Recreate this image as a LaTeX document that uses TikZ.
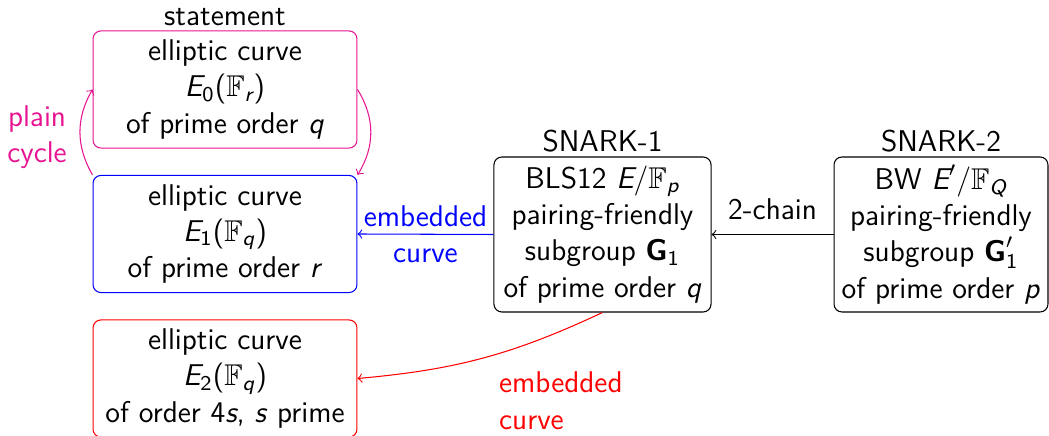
\documentclass[tikz,border=0pt]{standalone}
\usepackage{amsmath}
\usepackage{amssymb}
\usetikzlibrary{positioning}
\definecolor{cycpink}{RGB}{230,20,145}
% slanted sans letters for the variables, as in a sans-serif slide font
\newcommand{\mv}[1]{\textsl{#1}}
\newcommand{\up}[1]{\textup{#1}}
\begin{document}
\begin{tikzpicture}[x=0.38pt,y=-0.38pt,
  every node/.style={font=\fontsize{11.4}{13.8}\selectfont\sffamily},
  curvebox/.style={draw,rounded corners=3pt,align=center,inner sep=0pt,
    minimum width=100.3pt,minimum height=44.5pt},
  snarkbox/.style={draw,rounded corners=3pt,align=center,inner sep=0pt,
    minimum height=58.9pt},
  toplabel/.style={inner sep=1.5pt},
  conn/.style={->,line width=0.4pt}]
\useasboundingbox (0,0) rectangle (1049,436);

% curves on the left
\node[curvebox,draw=cycpink,label={[toplabel]above:statement}] (E0) at (225,89.5)
  {elliptic curve\\ $\mv{E}_{\up{0}}\up{(}\mathbb{F}_{\mv{r}}\up{)}$\\ of prime order \mv{q}};
\node[curvebox,draw=blue] (E1) at (225,234)
  {elliptic curve\\ $\mv{E}_{\up{1}}\up{(}\mathbb{F}_{\mv{q}}\up{)}$\\ of prime order \mv{r}};
\node[curvebox,draw=red] (E2) at (225,378.5)
  {elliptic curve\\ $\mv{E}_{\up{2}}\up{(}\mathbb{F}_{\mv{q}}\up{)}$\\ of order 4\mv{s}, \mv{s} prime};

% proof systems on the right
\node[snarkbox,minimum width=82.5pt,label={[toplabel]above:SNARK-1}] (S1) at (602.5,234.5)
  {BLS12 $\mv{E}\up{/}\mathbb{F}_{\mv{p}}$\\ pairing-friendly\\ subgroup $\textbf{G}_{\up{1}}$\\ of prime order \mv{q}};
\node[snarkbox,minimum width=81.3pt,label={[toplabel]above:SNARK-2}] (S2) at (941,234.5)
  {BW $\mv{E}'\up{/}\mathbb{F}_{\mv{Q}}$\\ pairing-friendly\\ subgroup $\textbf{G}'_{\up{1}}$\\ of prime order \mv{p}};

% connectors
\draw[conn] (S2.west) -- node[above=2pt] (chain) {2-chain} (S1.west -| S1.east);
\draw[conn,blue] (S1.west) -- node[text=blue,align=center] (emb1) {embedded\\ curve} (E1.east);
\draw[conn,red] (S1.south) to[bend left=10] (E2.east);
\node[text=red,align=left,anchor=north west,inner sep=1pt] (emb2) at (496,369) {embedded\\ curve};
\draw[conn,cycpink] (E0.east) to[bend left=32] (E1.north east);
\draw[conn,cycpink] (E1.north west) to[bend left=30]
  node[left=1.5pt,yshift=-2pt,text=cycpink,align=center] (cyc) {plain\\ cycle} (E0.west);
\end{tikzpicture}
\end{document}
